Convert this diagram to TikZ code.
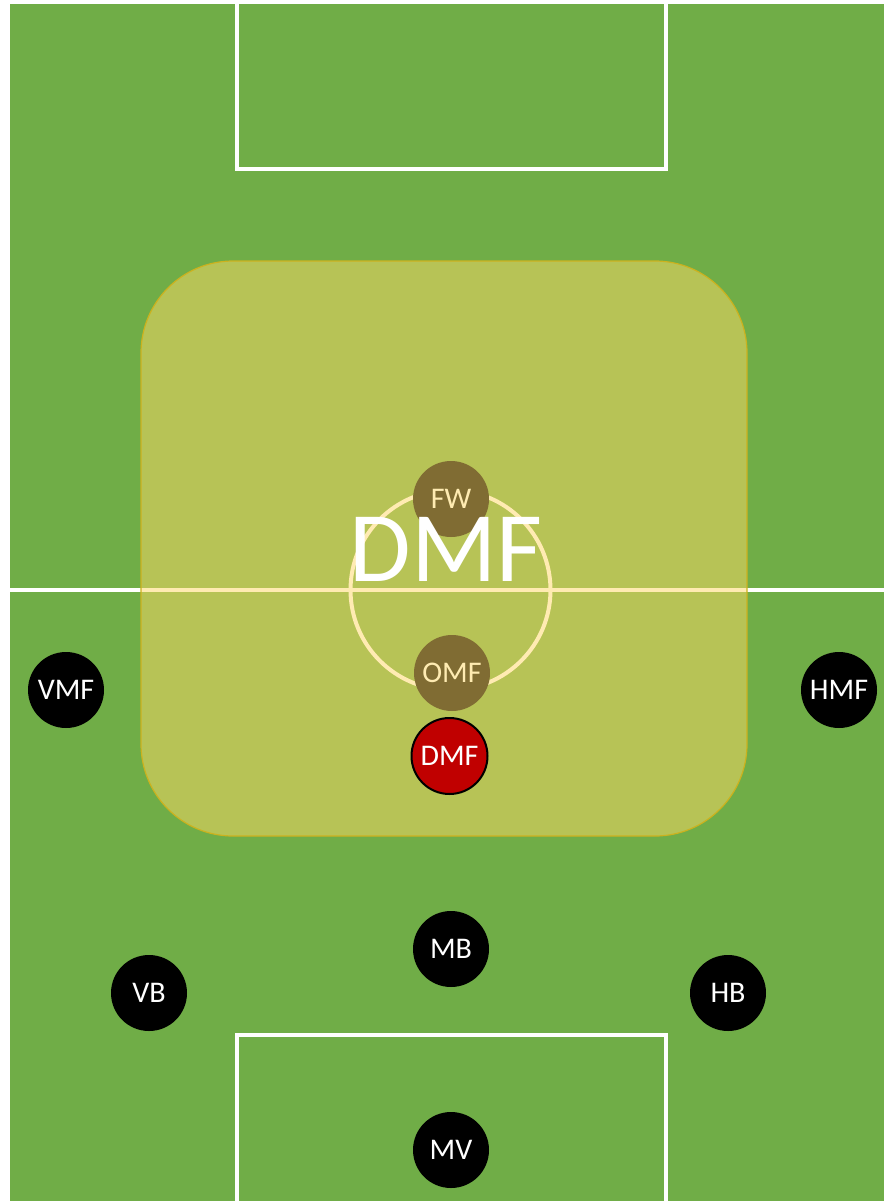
\documentclass[tikz,border=0pt]{standalone}
\usepackage{fontspec}
\setmainfont{Carlito}
\definecolor{pitch}{RGB}{112,173,71}
\definecolor{hl}{RGB}{255,217,102}
\definecolor{hlborder}{RGB}{204,178,30}
\definecolor{dmfred}{RGB}{192,0,0}
\begin{document}
\begin{tikzpicture}[x=1pt,y=-1pt,
  pline/.style={draw=white,line width=4pt},
  player/.style={circle,fill=black,minimum size=76pt,inner sep=0pt,text=white,font=\fontsize{30}{30}\selectfont},
  zone/.style={draw=hlborder,line width=1.2pt,fill=hl,fill opacity=0.5,rounded corners=92pt},
  bigtitle/.style={text=white,inner sep=0pt,font=\fontsize{100}{100}\selectfont}]
\useasboundingbox (0,0) rectangle (884,1201);
\fill[white] (0,0) rectangle (884,1201);
\fill[pitch] (10,4) rectangle (884,1201);
% pitch markings
\draw[pline] (237,4) -- (237,169.5) -- (666,169.5) -- (666,4);
\draw[pline] (237,1201) -- (237,1035) -- (666,1035) -- (666,1201);
\draw[pline] (10,589.5) -- (884,589.5);
\draw[pline] (450.5,590) circle[radius=100];
% players under the zone
\node[player] (VMF) at (66,690) {VMF};
\node[player] (HMF) at (839,690) {HMF};
\node[player] (FW) at (451,499) {FW};
\node[player] (OMF) at (452,673) {OMF};
% highlighted zone
\path[zone] (141,261) rectangle (747,836);
% players above the zone
\node[player,fill=dmfred,draw=black,line width=2pt] (DMF) at (449.5,756) {DMF};
\node[bigtitle] (title) at (446,549.5) {DMF};
\node[player] (MB) at (451,949) {MB};
\node[player] (VB) at (149,993) {VB};
\node[player] (HB) at (728,993) {HB};
\node[player] (MV) at (451,1150) {MV};
\end{tikzpicture}
\end{document}
